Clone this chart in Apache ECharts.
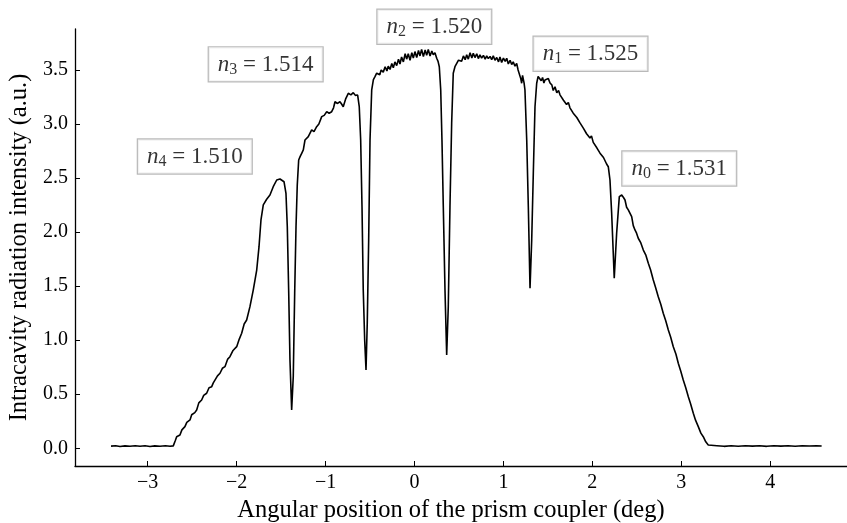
<!DOCTYPE html>
<html>
<head>
<meta charset="utf-8">
<script src="https://cdn.jsdelivr.net/npm/echarts@6/dist/echarts.min.js"></script>
<style>html,body{margin:0;padding:0;background:#fff;}#c{width:847px;height:523px;}</style>
</head>
<body>
<div id="c"></div>
<script>
// Angular position (deg)
const angle = [
-3.412,-3.360,-3.311,-3.255,-3.199,-3.140,-3.086,-3.030,-2.974,-2.920,-2.861,-2.800,-2.749,-2.712,
-2.690,-2.674,-2.655,-2.637,-2.615,-2.581,-2.560,-2.524,-2.505,-2.487,-2.470,-2.449,-2.425,-2.393,-2.370,-2.337,-2.310,-2.280,-2.262,-2.243,-2.215,-2.187,-2.160,-2.131,-2.100,-2.075,-2.040,-1.999,-1.970,-1.943,-1.915,-1.887,
-1.850,-1.813,-1.774,-1.748,-1.726,-1.700,-1.662,-1.625,-1.588,-1.549,-1.512,-1.467,-1.445,-1.430,-1.414,-1.400,-1.381,-1.363,-1.347,-1.332,-1.318,-1.302,
-1.285,-1.268,-1.250,-1.231,-1.212,-1.194,-1.175,-1.156,-1.130,-1.100,-1.075,-1.043,-1.015,-0.987,-0.960,-0.931,-0.910,-0.894,-0.865,-0.838,-0.820,-0.801,-0.775,-0.744,-0.715,-0.688,-0.665,-0.639,
-0.621,-0.605,-0.590,-0.576,-0.560,-0.545,-0.531,-0.515,-0.500,-0.481,
-0.462,-0.444,-0.425,-0.407,-0.390,-0.375,-0.351,-0.330,-0.310,-0.295,-0.275,-0.255,-0.238,-0.220,-0.200,-0.180,-0.163,-0.145,-0.125,-0.105,-0.088,-0.070,-0.050,-0.030,-0.013,0.005,0.025,0.045,0.062,0.080,0.100,0.120,0.137,0.155,0.175,0.195,0.211,0.230,0.250,0.265,0.279,
0.295,0.309,0.324,0.343,0.362,0.380,0.399,0.418,0.436,
0.455,0.475,0.495,0.512,0.530,0.550,0.570,0.587,0.605,0.625,0.645,0.661,0.680,0.700,0.718,0.736,0.755,0.775,0.795,0.812,0.830,0.850,0.868,0.886,0.905,0.925,0.945,0.961,0.980,1.000,1.020,1.037,1.055,1.075,1.093,1.110,1.130,1.149,1.165,1.186,1.195,1.205,1.215,1.223,1.232,1.242,
1.262,1.280,1.299,1.318,1.336,1.355,1.374,
1.390,1.411,1.425,1.440,1.455,1.467,1.485,1.505,1.524,1.545,1.560,1.580,1.600,1.620,1.636,1.655,1.675,1.692,1.710,1.730,1.748,1.768,1.785,1.805,1.825,1.845,1.861,1.880,1.900,1.917,1.935,1.955,1.973,1.990,2.010,2.030,2.050,2.068,2.086,2.105,2.125,2.142,2.160,2.179,
2.198,2.217,2.235,2.246,2.273,2.303,
2.330,2.350,2.367,2.385,2.404,2.420,2.442,2.460,2.479,2.497,2.516,2.545,2.573,2.600,2.629,2.655,2.685,2.710,2.741,2.770,2.797,2.825,2.854,2.880,2.910,2.940,2.966,2.995,3.022,3.050,3.079,3.105,3.135,3.160,3.191,3.220,3.247,3.275,3.303,
3.322,3.400,3.480,3.560,3.640,3.720,3.800,3.880,3.960,4.040,4.120,4.200,4.280,4.360,4.440,4.520,4.578
];
// Intracavity radiation intensity (a.u.)
const intensity = [
0.020,0.024,0.017,0.022,0.018,0.024,0.019,0.023,0.017,0.022,0.019,0.023,0.018,0.022,
0.070,0.107,0.120,0.123,0.170,0.200,0.240,0.262,0.310,0.324,0.330,0.354,0.420,0.447,0.490,0.509,0.560,0.570,0.605,0.616,0.670,0.694,0.740,0.755,0.825,0.847,0.905,0.940,1.010,1.064,1.150,1.187,
1.310,1.464,1.649,1.865,2.112,2.251,2.304,2.343,2.420,2.482,2.491,2.466,2.359,2.050,1.434,0.817,0.354,0.662,1.434,2.050,2.436,2.667,
2.700,2.729,2.760,2.852,2.840,2.883,2.870,2.945,2.930,2.975,3.000,3.068,3.080,3.114,3.100,3.114,3.150,3.206,3.190,3.206,3.185,3.160,3.230,3.284,3.270,3.290,3.265,3.268,
3.160,2.852,2.235,1.464,1.002,0.724,1.159,1.927,2.852,3.315,
3.410,3.438,3.470,3.484,3.455,3.500,3.480,3.530,3.490,3.535,3.505,3.560,3.520,3.575,3.540,3.600,3.555,3.620,3.575,3.650,3.600,3.650,3.590,3.660,3.610,3.670,3.615,3.680,3.630,3.690,3.625,3.685,3.635,3.690,3.630,3.675,3.640,3.660,3.608,3.580,3.530,
3.315,2.852,2.235,1.464,0.863,1.310,2.235,3.007,3.469,
3.530,3.546,3.590,3.608,3.580,3.630,3.595,3.640,3.600,3.660,3.610,3.655,3.615,3.650,3.605,3.640,3.610,3.635,3.600,3.630,3.605,3.625,3.595,3.630,3.590,3.615,3.575,3.620,3.570,3.610,3.580,3.608,3.555,3.590,3.550,3.575,3.535,3.560,3.500,3.490,3.420,3.377,3.450,3.438,3.380,3.315,
2.852,2.235,1.480,1.927,2.544,3.160,3.377,
3.440,3.453,3.400,3.430,3.380,3.407,3.390,3.420,3.380,3.360,3.310,3.345,3.290,3.310,3.270,3.275,3.220,3.238,3.180,3.200,3.150,3.160,3.100,3.114,3.060,3.070,3.010,3.020,2.960,2.975,2.910,2.920,2.870,2.890,2.830,2.836,2.780,2.790,2.730,2.745,2.690,2.683,2.630,2.605,
2.482,2.174,1.804,1.573,1.989,2.328,
2.343,2.320,2.297,2.230,2.205,2.190,2.143,2.060,2.020,1.990,1.943,1.900,1.834,1.790,1.711,1.650,1.557,1.490,1.402,1.330,1.249,1.180,1.094,1.030,0.940,0.870,0.786,0.710,0.632,0.560,0.477,0.410,0.324,0.260,0.200,0.140,0.107,0.060,0.031,
0.020,0.024,0.018,0.023,0.019,0.024,0.020,0.023,0.018,0.024,0.020,0.023,0.019,0.024,0.021,0.023,0.021
];
const xTicks = [-3,-2,-1,0,1,2,3,4];
const yTicks = [0,0.5,1.0,1.5,2.0,2.5,3.0,3.5];
// annotations: mode index and refractive index, placed at (angle, intensity)
const noteSub = ['4','3','2','1','0'];
const noteVal = ['1.510','1.514','1.520','1.525','1.531'];
const noteX = [-2.47,-1.673,0.223,1.979,2.977];
const noteY = [2.70,3.552,3.90,3.650,2.588];

const FONT = '"Liberation Serif", "DejaVu Serif", serif';
const chart = echarts.init(document.getElementById('c'), null, {renderer:'canvas'});
const lineData = angle.map((a,i)=>[a,intensity[i]]);
const noteData = noteX.map((x,i)=>({value:[x,noteY[i]], sub:noteSub[i], val:noteVal[i]}));

chart.setOption({
  animation:false,
  backgroundColor:'#fff',
  grid:{left:75, right:0, top:29, bottom:57, containLabel:false, outerBoundsMode:'none'},
  xAxis:{
    type:'value', min:-3.817, max:4.863,
    name:'Angular position of the prism coupler (deg)', nameLocation:'middle', nameGap:27,
    nameTextStyle:{fontFamily:FONT, fontSize:24.5, color:'#000', padding:[0,20,0,0]},
    axisLine:{show:true, onZero:false, lineStyle:{color:'#000', width:1.3}},
    axisTick:{show:true, inside:true, length:5, customValues:xTicks, lineStyle:{color:'#000', width:1}},
    axisLabel:{show:true, customValues:xTicks, margin:7, fontFamily:FONT, fontSize:20, color:'#000',
      formatter:v=>(v<0?'\u2212'+Math.abs(v):String(v))},
    splitLine:{show:false}
  },
  yAxis:{
    type:'value', min:-0.164, max:3.879,
    name:'Intracavity radiation intensity (a.u.)', nameLocation:'middle', nameGap:43, nameRotate:90,
    nameTextStyle:{fontFamily:FONT, fontSize:24.5, color:'#000'},
    axisLine:{show:true, onZero:false, lineStyle:{color:'#000', width:1.3}},
    axisTick:{show:true, inside:true, length:5, customValues:yTicks, lineStyle:{color:'#000', width:1}},
    axisLabel:{show:true, customValues:yTicks, margin:7, fontFamily:FONT, fontSize:20, color:'#000',
      formatter:v=>v.toFixed(1)},
    splitLine:{show:false}
  },
  series:[
    {type:'line', data:lineData, showSymbol:false, symbol:'none', smooth:false,
     lineStyle:{color:'#000', width:1.6}, clip:false, z:2},
    {type:'scatter', data:noteData, symbolSize:1, itemStyle:{color:'rgba(0,0,0,0)'}, clip:false, z:5,
     label:{show:true, position:'inside',
       formatter:p=>'{n|n}{s|'+p.data.sub+'}{t| = '+p.data.val+'}',
       backgroundColor:'#fff', borderColor:'#a8a8a8', borderWidth:1.2, padding:[5,9,4,9],
       rich:{
         n:{fontFamily:FONT, fontStyle:'italic', fontSize:23, color:'#000', verticalAlign:'middle'},
         s:{fontFamily:FONT, fontSize:16, color:'#000', verticalAlign:'bottom', padding:[9,0,0,0]},
         t:{fontFamily:FONT, fontSize:23, color:'#000', verticalAlign:'middle'}
       }}
    }
  ]
});
</script>
</body>
</html>
